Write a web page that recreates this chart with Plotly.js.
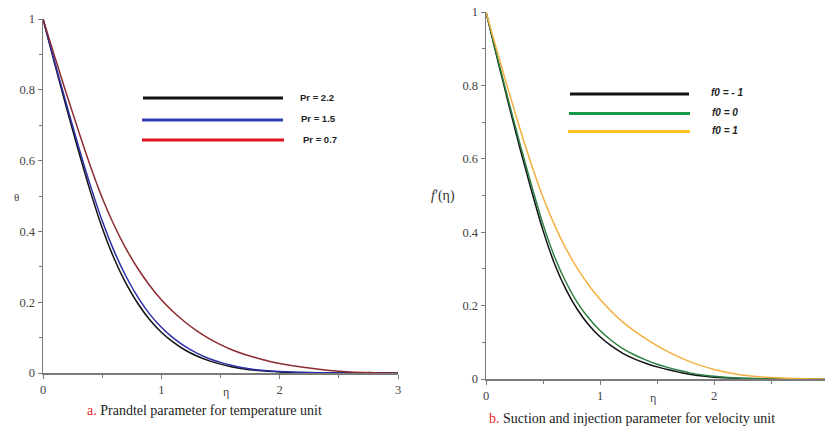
<!DOCTYPE html>
<html>
<head>
<meta charset="utf-8">
<script src="https://cdn.plot.ly/plotly-3.0.1.min.js"></script>
<style>html,body{margin:0;padding:0;background:#fff}#chart{width:825px;height:435px}</style>
</head>
<body>
<div id="chart"></div>
<script>
// ---- Data ----
const eta = [0, 0.1, 0.2, 0.3, 0.4, 0.5, 0.6, 0.7, 0.8, 0.9, 1.0, 1.1, 1.2, 1.3, 1.4, 1.5, 1.6, 1.7, 1.8, 1.9, 2.0, 2.2, 2.4, 2.6, 2.8, 3.0];

// Panel a: temperature theta for Prandtl numbers
const prNames = ["Pr = 2.2", "Pr = 1.5", "Pr = 0.7"];
const thetaPr22 = [1, 0.872, 0.747, 0.627, 0.513, 0.41, 0.324, 0.254, 0.197, 0.151, 0.115, 0.087, 0.065, 0.048, 0.035, 0.025, 0.0172, 0.0115, 0.0075, 0.0048, 0.003, 0.0011, 0.0004, 0.0001, 0, 0];
const thetaPr15 = [1, 0.877, 0.757, 0.64, 0.53, 0.43, 0.345, 0.274, 0.215, 0.167, 0.129, 0.099, 0.075, 0.056, 0.041, 0.03, 0.021, 0.014, 0.0095, 0.0063, 0.004, 0.0016, 0.0006, 0.0002, 0.0001, 0];
const thetaPr07 = [1, 0.893, 0.787, 0.684, 0.585, 0.495, 0.418, 0.352, 0.296, 0.248, 0.207, 0.173, 0.144, 0.119, 0.098, 0.08, 0.065, 0.053, 0.043, 0.034, 0.027, 0.016, 0.008, 0.003, 0.001, 0];

// Panel b: velocity f'(eta) for suction/injection f0
const f0Names = ["f0 = - 1", "f0 = 0", "f0 = 1"];
const fpM1 = [1, 0.872, 0.747, 0.626, 0.512, 0.405, 0.315, 0.245, 0.19, 0.148, 0.115, 0.09, 0.07, 0.055, 0.043, 0.033, 0.025, 0.018, 0.012, 0.008, 0.005, 0.002, 0.0007, 0.0002, 0.0001, 0];
const fp0  = [1, 0.876, 0.755, 0.638, 0.527, 0.422, 0.334, 0.265, 0.209, 0.166, 0.132, 0.105, 0.083, 0.066, 0.052, 0.04, 0.031, 0.023, 0.016, 0.011, 0.0075, 0.003, 0.001, 0.0003, 0.0001, 0];
const fpP1 = [1, 0.89, 0.783, 0.68, 0.583, 0.495, 0.42, 0.356, 0.302, 0.256, 0.217, 0.184, 0.155, 0.131, 0.11, 0.091, 0.074, 0.059, 0.046, 0.035, 0.026, 0.013, 0.006, 0.0025, 0.0008, 0];

// ---- Styles ----
const W = 825, H = 435;
const px = x => x / W, py = y => 1 - y / H;
const curveColA = ["#111111", "#2b2fa8", "#8b2a2f"];
const keyColA   = ["#111111", "#3340b8", "#e0141e"];
const curveColB = ["#111111", "#2a8040", "#f3b040"];
const keyColB   = ["#111111", "#17994a", "#ffc321"];

const traces = [];
[thetaPr22, thetaPr15, thetaPr07].forEach((ys, i) => traces.push({
  x: eta, y: ys, type: "scatter", mode: "lines", name: prNames[i],
  line: {color: curveColA[i], width: 1.5, shape: "spline", smoothing: 1},
  xaxis: "x", yaxis: "y", showlegend: false, hoverinfo: "skip"
}));
[fpM1, fp0, fpP1].forEach((ys, i) => traces.push({
  x: eta, y: ys, type: "scatter", mode: "lines", name: f0Names[i],
  line: {color: curveColB[i], width: 1.5, shape: "spline", smoothing: 1},
  xaxis: "x2", yaxis: "y2", showlegend: false, hoverinfo: "skip"
}));

const serif = "Liberation Serif, Times New Roman, serif";
const tickFont = {family: serif, size: 12.5, color: "#444"};
function axis(extra) {
  return Object.assign({
    showline: true, linecolor: "#7a7a7a", linewidth: 1.5,
    ticks: "outside", ticklen: 4, tickcolor: "#7a7a7a", tickwidth: 1,
    showgrid: false, zeroline: false, tickfont: tickFont, fixedrange: true
  }, extra);
}
const minorX = {dtick: 0.5, ticklen: 3, tickcolor: "#7a7a7a", ticks: "outside", showgrid: false};
const minorY = {dtick: 0.1, ticklen: 3, tickcolor: "#7a7a7a", ticks: "outside", showgrid: false};

const shapes = [], annotations = [];
// key lines panel a
const keyAy = [98, 120, 140], keyAx0 = [143, 142, 142], keyAx1 = [283, 283, 284], keyAtx = [298, 299, 301];
prNames.forEach((n, i) => {
  shapes.push({type: "line", xref: "paper", yref: "paper", x0: px(keyAx0[i]), x1: px(keyAx1[i]), y0: py(keyAy[i]), y1: py(keyAy[i]),
    line: {color: keyColA[i], width: 3}});
  annotations.push({xref: "paper", yref: "paper", x: px(keyAtx[i]), y: py(keyAy[i] - 1), text: "<b>" + n + "</b>", showarrow: false,
    xanchor: "left", yanchor: "middle", font: {family: "Liberation Sans, Arial, sans-serif", size: 9.5, color: "#222"}});
});
// key lines panel b
const keyBy = [94, 113.5, 131.5], keyBx0 = [570, 569, 568], keyBx1 = [689, 690, 690], keyBtx = [709, 710, 710];
f0Names.forEach((n, i) => {
  shapes.push({type: "line", xref: "paper", yref: "paper", x0: px(keyBx0[i]), x1: px(keyBx1[i]), y0: py(keyBy[i]), y1: py(keyBy[i]),
    line: {color: keyColB[i], width: 3}});
  annotations.push({xref: "paper", yref: "paper", x: px(keyBtx[i]), y: py(keyBy[i] - 1), text: "<b><i>" + n + "</i></b>", showarrow: false,
    xanchor: "left", yanchor: "middle", font: {family: "Liberation Sans, Arial, sans-serif", size: 10, color: "#222"}});
});

// axis titles
annotations.push({xref: "paper", yref: "paper", x: px(12), y: py(197), text: "θ", showarrow: false, font: {family: serif, size: 11, color: "#444"}});
annotations.push({xref: "paper", yref: "paper", x: px(221), y: py(401), text: "η", showarrow: false, font: {family: serif, size: 12, color: "#444"}});
annotations.push({xref: "paper", yref: "paper", x: px(443), y: py(196), text: "<i>f</i>′(η)", showarrow: false, font: {family: serif, size: 14, color: "#333"}});
annotations.push({xref: "paper", yref: "paper", x: px(658), y: py(407), text: "η", showarrow: false, font: {family: serif, size: 12, color: "#444"}});
// captions
annotations.push({xref: "paper", yref: "paper", x: px(85), y: py(420), xanchor: "left", showarrow: false,
  text: "<span style='color:#e8262a'>a.</span> Prandtel parameter for temperature unit", font: {family: serif, size: 14, color: "#222"}});
annotations.push({xref: "paper", yref: "paper", x: px(487), y: py(428), xanchor: "left", showarrow: false,
  text: "<span style='color:#e8262a'>b.</span> Suction and injection parameter for velocity unit", font: {family: serif, size: 14, color: "#222"}});

const layout = {
  width: W, height: H, autosize: false,
  margin: {l: 0, r: 0, t: 0, b: 0, pad: 0},
  paper_bgcolor: "#fff", plot_bgcolor: "#fff", showlegend: false,
  xaxis: axis({domain: [px(43), px(398)], range: [0, 3], tick0: 0, dtick: 1, anchor: "y", minor: minorX}),
  yaxis: axis({domain: [py(373), py(19)], range: [0, 1], tick0: 0, dtick: 0.2, anchor: "x", minor: minorY}),
  xaxis2: axis({domain: [px(486), 1], range: [0, 339 / 114], tick0: 0, dtick: 1, anchor: "y2", minor: minorX}),
  yaxis2: axis({domain: [py(379), py(12)], range: [0, 1], tick0: 0, dtick: 0.2, anchor: "x2", minor: minorY}),
  shapes: shapes, annotations: annotations
};

Plotly.newPlot("chart", traces, layout, {staticPlot: true, displayModeBar: false});
</script>
</body>
</html>
